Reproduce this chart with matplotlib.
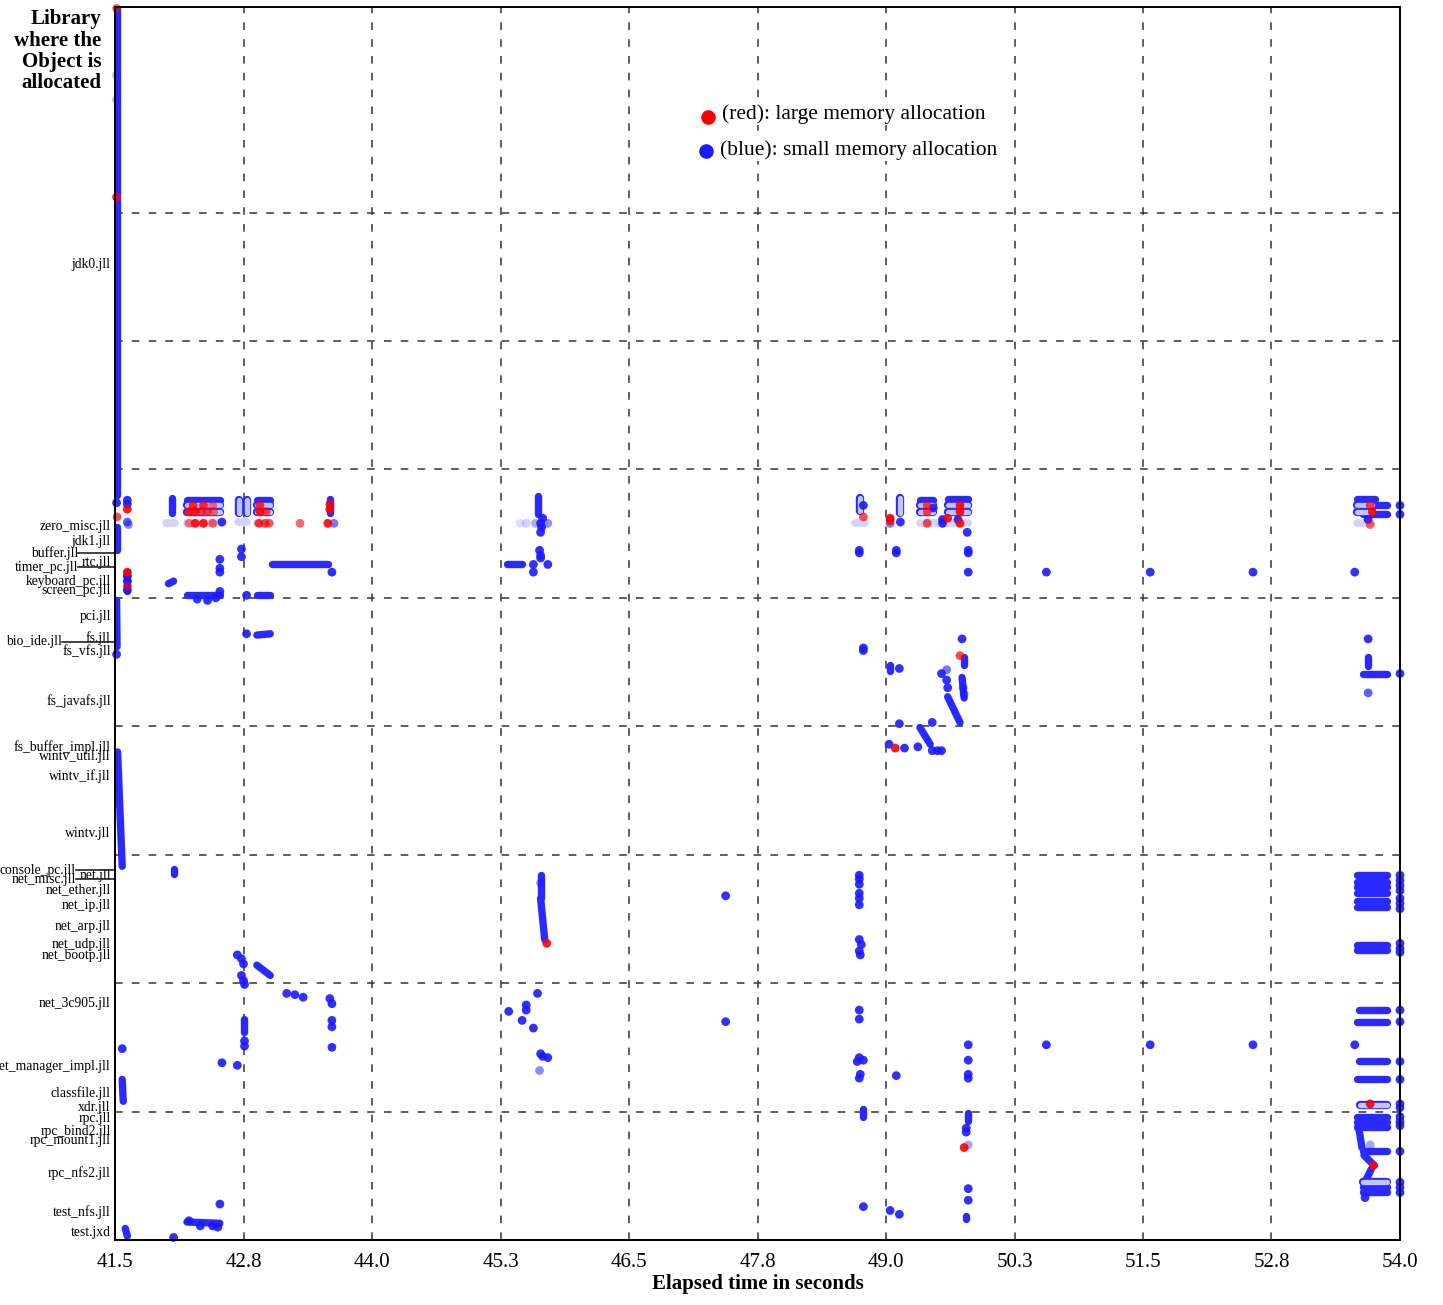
import matplotlib
matplotlib.use("Agg")
import matplotlib.pyplot as plt
import matplotlib.transforms as mtransforms

plt.rcParams['font.family'] = ['Liberation Serif', 'DejaVu Serif']

# time axis (seconds)
x_ticks = [41.5, 42.75, 44.0, 45.25, 46.5, 47.75, 49.0, 50.25, 51.5, 52.75, 54.0]
x_tick_labels = ['41.5', '42.8', '44.0', '45.3', '46.5', '47.8', '49.0', '50.3', '51.5', '52.8', '54.0']

# libraries along the allocation axis
lib_names = ['jdk0.jll', 'zero_misc.jll', 'jdk1.jll', 'rtc.jll', 'keyboard_pc.jll', 'screen_pc.jll',
             'pci.jll', 'fs.jll', 'fs_vfs.jll', 'fs_javafs.jll', 'fs_buffer_impl.jll', 'wintv_util.jll',
             'wintv_if.jll', 'wintv.jll', 'net.jll', 'net_ether.jll', 'net_ip.jll', 'net_arp.jll',
             'net_udp.jll', 'net_bootp.jll', 'net_3c905.jll', 'net_manager_impl.jll', 'classfile.jll',
             'xdr.jll', 'rpc.jll', 'rpc_bind2.jll', 'rpc_mount1.jll', 'rpc_nfs2.jll', 'test_nfs.jll',
             'test.jxd']
lib_pos = [7.61, 5.57, 5.45, 5.29, 5.14, 5.07,
           4.87, 4.70, 4.60, 4.21, 3.85, 3.78,
           3.62, 3.18, 2.85, 2.73, 2.62, 2.45,
           2.31, 2.23, 1.85, 1.36, 1.155,
           1.04, 0.96, 0.86, 0.79, 0.53, 0.23,
           0.07]
# crowded libraries, labelled further left with a leader line
side_names = ['buffer.jll', 'timer_pc.jll', 'bio_ide.jll', 'console_pc.jll', 'net_misc.jll']
side_pos = [5.35, 5.24, 4.66, 2.88, 2.81]

# runs of back-to-back small allocations: (t0, t1, y0, y1)
bursts = [
    (41.515, 41.515, 9.59, 5.80), (41.515, 41.515, 5.55, 5.37), (41.515, 41.52, 4.98, 4.62),
    (41.525, 41.57, 3.80, 2.91), (41.57, 41.58, 1.25, 1.08), (41.60, 41.62, 0.09, 0.03),
    (42.05, 42.05, 5.78, 5.66), (42.20, 42.52, 5.76, 5.76), (42.88, 43.01, 5.76, 5.76),
    (43.59, 43.59, 5.77, 5.66), (45.61, 45.61, 5.79, 5.65), (49.33, 49.46, 5.76, 5.76),
    (49.60, 49.80, 5.77, 5.77), (53.58, 53.76, 5.77, 5.77), (53.76, 53.87, 5.72, 5.72),
    (53.64, 53.87, 5.65, 5.65), (41.62, 41.62, 5.20, 5.05), (42.02, 42.07, 5.11, 5.13),
    (42.20, 42.52, 5.02, 5.02), (42.88, 43.01, 5.02, 5.02), (43.03, 43.57, 5.26, 5.26),
    (45.31, 45.46, 5.26, 5.26), (42.88, 43.01, 4.71, 4.72), (49.76, 49.76, 4.54, 4.48),
    (49.04, 49.04, 4.48, 4.43), (49.74, 49.76, 4.38, 4.22), (49.60, 49.72, 4.23, 4.03),
    (53.69, 53.69, 4.54, 4.47), (53.64, 53.87, 4.41, 4.41), (49.33, 49.43, 3.99, 3.86),
    (42.07, 42.07, 2.89, 2.85), (45.64, 45.64, 2.84, 2.66), (45.64, 45.68, 2.66, 2.34),
    (42.88, 43.01, 2.14, 2.06), (42.75, 42.75, 1.72, 1.62),
    (53.58, 53.87, 2.84, 2.84), (53.58, 53.87, 2.79, 2.79), (53.58, 53.87, 2.75, 2.75),
    (53.58, 53.87, 2.70, 2.70), (53.58, 53.87, 2.64, 2.64), (53.58, 53.87, 2.59, 2.59),
    (53.58, 53.87, 2.30, 2.30), (53.58, 53.87, 2.26, 2.26),
    (53.60, 53.87, 1.79, 1.79), (53.58, 53.87, 1.70, 1.70), (53.60, 53.87, 1.39, 1.39),
    (53.58, 53.87, 1.25, 1.25),
    (48.78, 48.78, 1.02, 0.96), (49.80, 49.80, 0.99, 0.93), (49.78, 49.78, 0.19, 0.16),
    (42.20, 42.52, 0.14, 0.13),
    (53.58, 53.87, 0.96, 0.96), (53.58, 53.87, 0.92, 0.92), (53.58, 53.87, 0.88, 0.88),
    (53.60, 53.63, 0.87, 0.72), (53.64, 53.87, 0.69, 0.69), (53.65, 53.75, 0.66, 0.58),
    (53.72, 53.67, 0.55, 0.47), (53.64, 53.87, 0.41, 0.41), (53.64, 53.87, 0.37, 0.37),
]
# runs of mixed-size allocations (outlined)
mixed_bursts = [
    (42.20, 42.52, 5.72, 5.72), (42.20, 42.52, 5.67, 5.67),
    (42.88, 43.01, 5.72, 5.72), (42.88, 43.01, 5.67, 5.67),
    (42.71, 42.71, 5.76, 5.66), (42.78, 42.78, 5.76, 5.66),
    (48.75, 48.75, 5.78, 5.68), (49.14, 49.14, 5.78, 5.66),
    (49.33, 49.46, 5.72, 5.72), (49.33, 49.46, 5.67, 5.67),
    (49.60, 49.80, 5.72, 5.72), (49.60, 49.80, 5.67, 5.67),
    (53.58, 53.73, 5.72, 5.72), (53.58, 53.73, 5.67, 5.67),
    (53.61, 53.87, 1.05, 1.05), (53.64, 53.87, 0.45, 0.45),
]
# sparse short-lived runs: (t0, t1, y)
faint_bursts = [
    (42.00, 42.08, 5.58), (42.20, 42.52, 5.58), (42.70, 42.78, 5.59), (42.88, 43.01, 5.58),
    (48.70, 48.80, 5.58), (49.33, 49.50, 5.58), (49.52, 49.80, 5.58), (53.58, 53.72, 5.58),
]

# single small allocations: (t, y, weight)
small_allocs = [
    (41.515, 9.07, 0.3), (41.515, 8.88, 0.3), (41.515, 5.74, 0.9), (41.515, 4.56, 0.9),
    (41.62, 5.76, 0.9), (41.62, 5.73, 0.9), (41.62, 5.59, 0.7), (41.63, 5.57, 0.5),
    (42.73, 5.38, 0.9), (42.73, 5.32, 0.9), (42.52, 5.30, 0.9), (42.52, 5.23, 0.9),
    (42.52, 5.20, 0.9), (42.78, 5.02, 0.9), (42.30, 4.99, 0.9), (42.40, 4.98, 0.9),
    (42.48, 5.00, 0.9), (42.52, 5.05, 0.9), (43.61, 5.20, 0.9), (43.63, 5.58, 0.6),
    (42.54, 5.59, 0.9),
    (45.44, 5.58, 0.15), (45.50, 5.58, 0.2), (45.59, 5.58, 0.35), (45.64, 5.58, 0.9),
    (45.66, 5.62, 0.9), (45.65, 5.55, 0.9), (45.64, 5.51, 0.9), (45.71, 5.58, 0.5),
    (45.63, 5.37, 0.9), (45.64, 5.33, 0.9), (45.64, 5.31, 0.9), (45.57, 5.26, 0.9),
    (45.71, 5.26, 0.9), (45.57, 5.20, 0.9),
    (48.78, 5.72, 0.9), (49.04, 5.58, 0.6), (49.14, 5.59, 0.9), (49.46, 5.70, 0.9),
    (49.55, 5.61, 0.9), (49.55, 5.58, 0.9), (49.70, 5.61, 0.9), (49.79, 5.51, 0.9),
    (48.74, 5.37, 0.9), (48.74, 5.35, 0.9), (49.10, 5.37, 0.9), (49.10, 5.35, 0.9),
    (49.80, 5.37, 0.9), (49.80, 5.35, 0.9),
    (49.80, 5.20, 0.9), (50.56, 5.20, 0.9), (51.57, 5.20, 0.9), (52.57, 5.20, 0.9),
    (53.56, 5.20, 0.9), (53.69, 5.61, 0.9), (54.00, 5.72, 0.9), (54.00, 5.65, 0.9),
    (41.62, 5.17, 0.9), (41.62, 5.13, 0.9), (41.62, 5.06, 0.9),
    (42.78, 4.72, 0.9), (48.78, 4.61, 0.9), (48.78, 4.59, 0.9), (49.74, 4.68, 0.9),
    (49.13, 4.45, 0.9), (49.54, 4.41, 0.9), (49.59, 4.44, 0.6), (49.59, 4.36, 0.9),
    (49.60, 4.30, 0.9), (49.75, 4.30, 0.5), (49.76, 4.25, 0.5),
    (53.69, 4.68, 0.9), (54.00, 4.41, 0.9), (53.69, 4.26, 0.7),
    (49.13, 4.02, 0.9), (49.45, 4.03, 0.9), (49.03, 3.86, 0.9), (49.18, 3.83, 0.9),
    (49.31, 3.84, 0.9), (49.45, 3.81, 0.9), (49.50, 3.81, 0.9), (49.54, 3.81, 0.9),
    (45.64, 2.78, 0.5), (47.44, 2.68, 0.9),
    (48.74, 2.84, 0.9), (48.74, 2.81, 0.9), (48.74, 2.77, 0.9), (48.74, 2.70, 0.9),
    (48.74, 2.66, 0.9), (48.74, 2.61, 0.9), (48.74, 2.34, 0.9), (48.76, 2.30, 0.9),
    (48.74, 2.25, 0.9), (48.75, 2.22, 0.9),
    (54.00, 2.84, 0.9), (54.00, 2.80, 0.9), (54.00, 2.76, 0.9), (54.00, 2.72, 0.9),
    (54.00, 2.66, 0.9), (54.00, 2.62, 0.9), (54.00, 2.58, 0.9), (54.00, 2.31, 0.9),
    (54.00, 2.27, 0.9), (54.00, 2.24, 0.9),
    (42.69, 2.22, 0.9), (42.73, 2.19, 0.9), (42.75, 2.15, 0.9), (42.73, 2.06, 0.9),
    (42.75, 2.02, 0.9), (42.76, 1.99, 0.9), (43.17, 1.92, 0.9), (43.25, 1.91, 0.9),
    (43.33, 1.89, 0.9), (43.59, 1.88, 0.9), (43.61, 1.84, 0.9),
    (42.76, 1.55, 0.9), (42.76, 1.51, 0.9), (43.61, 1.71, 0.9), (43.61, 1.66, 0.9),
    (43.61, 1.50, 0.9), (42.54, 1.38, 0.9), (42.69, 1.36, 0.9), (41.57, 1.49, 0.9),
    (45.33, 1.78, 0.9), (45.50, 1.83, 0.9), (45.50, 1.79, 0.9), (45.46, 1.71, 0.9),
    (45.57, 1.65, 0.9), (45.61, 1.92, 0.9), (45.64, 1.45, 0.9), (45.66, 1.43, 0.9),
    (45.71, 1.42, 0.9), (45.63, 1.32, 0.5), (47.44, 1.70, 0.9),
    (48.74, 1.79, 0.9), (48.74, 1.72, 0.9), (48.74, 1.42, 0.9), (48.78, 1.40, 0.9),
    (48.72, 1.39, 0.9), (48.75, 1.29, 0.9), (48.74, 1.26, 0.9), (49.10, 1.28, 0.9),
    (49.80, 1.52, 0.9), (49.80, 1.40, 0.9), (49.80, 1.29, 0.9), (49.80, 1.26, 0.9),
    (50.56, 1.52, 0.9), (51.57, 1.52, 0.9), (52.57, 1.52, 0.9), (53.56, 1.52, 0.9),
    (54.00, 1.79, 0.9), (54.00, 1.70, 0.9), (54.00, 1.39, 0.9), (54.00, 1.25, 0.9),
    (54.00, 1.06, 0.9), (54.00, 1.03, 0.9),
    (49.78, 0.87, 0.9), (49.78, 0.84, 0.9), (49.80, 0.74, 0.4), (49.80, 0.40, 0.9),
    (49.80, 0.31, 0.9), (48.78, 0.26, 0.9), (49.04, 0.23, 0.9), (49.13, 0.20, 0.9),
    (42.52, 0.28, 0.9), (42.22, 0.15, 0.9), (42.33, 0.11, 0.9), (42.45, 0.11, 0.9),
    (42.50, 0.10, 0.9), (42.07, 0.02, 0.9), (53.66, 0.33, 0.9), (53.71, 0.74, 0.4),
    (54.00, 0.96, 0.9), (54.00, 0.92, 0.9), (54.00, 0.89, 0.9), (54.00, 0.69, 0.9),
    (54.00, 0.45, 0.9), (54.00, 0.41, 0.9), (54.00, 0.37, 0.9),
]
# single large allocations: (t, y, weight)
large_allocs = [
    (41.515, 9.59, 0.6), (41.515, 8.12, 0.8), (41.52, 5.63, 0.7),
    (41.62, 5.69, 0.9), (41.62, 5.20, 0.9), (41.62, 5.09, 0.6),
    (42.26, 5.72, 0.8), (42.36, 5.72, 0.8), (42.45, 5.72, 0.5),
    (42.22, 5.67, 0.9), (42.28, 5.67, 0.9), (42.34, 5.67, 0.7), (42.40, 5.67, 0.7), (42.46, 5.67, 0.5),
    (42.22, 5.58, 0.5), (42.28, 5.58, 0.9), (42.36, 5.58, 0.9), (42.45, 5.58, 0.6),
    (42.91, 5.72, 0.8), (42.91, 5.67, 0.9), (42.97, 5.67, 0.7),
    (42.90, 5.58, 0.8), (42.96, 5.58, 0.7), (43.00, 5.58, 0.6),
    (43.30, 5.58, 0.6), (43.59, 5.73, 0.8), (43.59, 5.69, 0.9), (43.57, 5.58, 0.9),
    (48.78, 5.63, 0.7), (49.04, 5.62, 0.9), (49.04, 5.60, 0.8),
    (49.40, 5.72, 0.7), (49.40, 5.67, 0.7), (49.40, 5.58, 0.7), (49.60, 5.62, 0.9),
    (49.72, 5.72, 0.9), (49.72, 5.67, 0.9), (49.72, 5.58, 0.9),
    (53.71, 5.72, 0.7), (53.73, 5.67, 0.9), (53.71, 5.57, 0.6),
    (49.72, 4.55, 0.7), (49.09, 3.83, 0.9), (45.70, 2.31, 0.9),
    (53.71, 1.06, 0.9), (49.76, 0.72, 0.9), (53.74, 0.58, 0.9),
]

BLUE = '#2a2aff'
PALE = '#c4c4ff'
FAINT = '#d2d2ff'

fig = plt.figure(figsize=(14.43, 13.05), dpi=100)
ax = fig.add_axes([0.0797, 0.0498, 0.8905, 0.9448])

for t0, t1, y in faint_bursts:
    ax.plot([t0, t1], [y, y], color=FAINT, lw=5.5, solid_capstyle='round', zorder=2)
for t0, t1, y0, y1 in bursts:
    ax.plot([t0, t1], [y0, y1], color=BLUE, lw=5.3, solid_capstyle='round', zorder=3)
for t0, t1, y0, y1 in mixed_bursts:
    ax.plot([t0, t1], [y0, y1], color=BLUE, lw=6.0, solid_capstyle='round', zorder=3)
    ax.plot([t0, t1], [y0, y1], color=PALE, lw=3.8, solid_capstyle='round', zorder=3)

for pts, rgb in ((small_allocs, (0.1, 0.1, 1.0)), (large_allocs, (1.0, 0.0, 0.0))):
    ax.scatter([p[0] for p in pts], [p[1] for p in pts], s=40,
               c=[rgb + (p[2],) for p in pts], edgecolors='none', zorder=4, clip_on=False)

ax.set_xlim(41.5, 54.0)
ax.set_ylim(0, 9.6)

# grid on fixed intervals of both axes
for xv in x_ticks[1:-1]:
    ax.axvline(xv, color='#333333', lw=1.1, ls=(0, (5, 6)), zorder=1)
for yv in range(1, 9):
    ax.axhline(yv, color='#333333', lw=1.1, ls=(0, (5, 6)), zorder=1)

ax.set_xticks(x_ticks)
ax.set_xticklabels(x_tick_labels, fontsize=15)
ax.set_yticks(lib_pos)
ax.set_yticklabels(lib_names, fontsize=9.8)
ax.tick_params(axis='y', length=0, pad=3)
ax.tick_params(axis='x', length=0, pad=9)
for sp in ax.spines.values():
    sp.set_linewidth(1.4)
    sp.set_zorder(5)

# side labels with leader lines back to the axis
trans = mtransforms.blended_transform_factory(ax.transAxes, ax.transData)
side_x = [-0.0288, -0.0288, -0.0412, -0.0303, -0.0303]
for name, yv, sx in zip(side_names, side_pos, side_x):
    ax.text(sx, yv, name, transform=trans, ha='right', va='center', fontsize=9.8)
    ax.plot([sx, 0], [yv, yv], transform=trans, color='#222222', lw=1.2, clip_on=False)

ax.set_xlabel('Elapsed time in seconds', fontsize=15, fontweight='bold', labelpad=2)
fig.text(101 / 1443, 1 - 9 / 1305, 'Library\nwhere the\nObject is\nallocated', ha='right', va='top',
         fontsize=15, fontweight='bold', linespacing=1.1, multialignment='right')

# colour key
ax.scatter([0.4615], [0.9108], s=90, color=(1, 0, 0), transform=ax.transAxes, zorder=6)
ax.text(0.4724, 0.9132, '(red): large memory allocation', transform=ax.transAxes,
        fontsize=15.5, va='center', ha='left', zorder=6,
        bbox=dict(facecolor='white', edgecolor='none', pad=1))
ax.scatter([0.4599], [0.8832], s=90, color=(0.1, 0.1, 1.0), transform=ax.transAxes, zorder=6)
ax.text(0.4708, 0.8840, '(blue): small memory allocation', transform=ax.transAxes,
        fontsize=15.5, va='center', ha='left', zorder=6,
        bbox=dict(facecolor='white', edgecolor='none', pad=1))

fig.savefig('out.png', dpi=100)
